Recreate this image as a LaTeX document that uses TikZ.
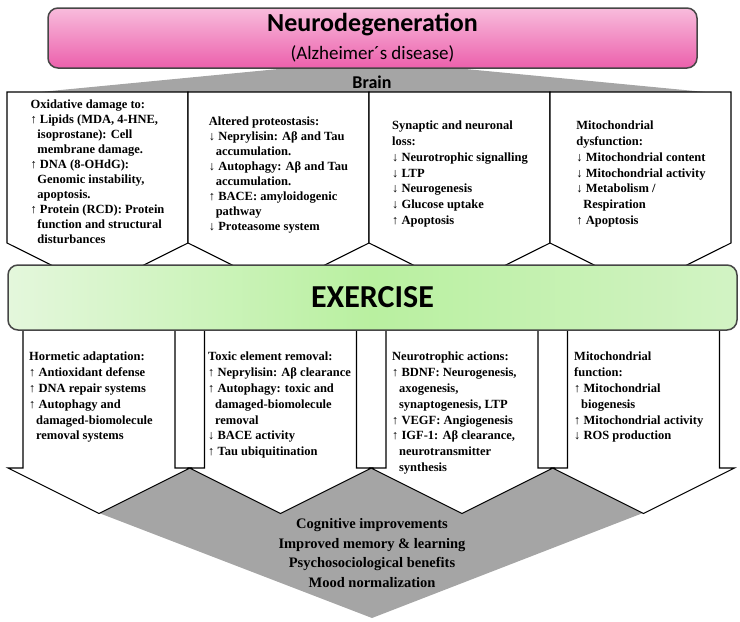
\documentclass[tikz,border=0pt]{standalone}
\usepackage{fontspec}
\setmainfont{Liberation Serif}
\newfontfamily\headfont{Carlito}
\usetikzlibrary{positioning}
\definecolor{pinktop}{RGB}{248,188,220}
\definecolor{pinkbot}{RGB}{236,96,172}
\definecolor{exleft}{RGB}{228,247,220}
\definecolor{exmid}{RGB}{185,240,160}
\definecolor{exright}{RGB}{210,243,196}
\definecolor{wedge}{RGB}{165,165,165}
\definecolor{rim}{RGB}{70,70,70}
\newcommand{\up}{↑~}
\newcommand{\dn}{↓~}
\newcommand{\cont}{\hspace*{0.55em}}

\begin{document}
\begin{tikzpicture}[x=1pt,y=-1pt,
  boxtext/.style={align=left,inner sep=0pt,
    font=\fontsize{12.5}{15.8}\selectfont\bfseries},
  tighttext/.style={boxtext,font=\fontsize{12.5}{15}\selectfont\bfseries},
  panel/.style={draw=black,fill=white,line width=1.1pt},
  banner/.style={draw=rim,line width=1.5pt,rounded corners=10pt}]
\useasboundingbox (0,0) rectangle (740,622);

% grey wedges
\fill[wedge] (372,60) -- (705,92) -- (40,92) -- cycle;
\fill[wedge] (99,513) -- (190,468) -- (553,468) -- (643,513) -- (372,618) -- cycle;

% brain panels
\foreach \i in {0,...,3}
  \draw[panel] ({7+181*\i},92) -- ({188+181*\i},92) -- ({188+181*\i},243)
    -- ({97.5+181*\i},288) -- ({7+181*\i},243) -- cycle;

% exercise arrows
\foreach \c in {99,280.5,462,643.5}
  \draw[panel] ({\c-76},320) -- ({\c+76},320) -- ({\c+76},468) -- ({\c+91},468)
    -- (\c,513.5) -- ({\c-91},468) -- ({\c-76},468) -- cycle;

% banners
\node[banner,top color=pinktop,bottom color=pinkbot,
  minimum width=649pt,minimum height=60pt] (neuro) at (372.5,38) {};
\node[font=\headfont\bfseries\fontsize{26}{28}\selectfont] (title) at (372.5,25) {Neurodegeneration};
\node[font=\headfont\fontsize{19}{21}\selectfont] (ad) at (372.5,54) {(Alzheimer´s disease)};
\node[font=\headfont\bfseries\fontsize{18}{20}\selectfont] (brain) at (372,82) {Brain};

\node[banner,left color=exleft,right color=exright,middle color=exmid,
  minimum width=729pt,minimum height=65pt,
  font=\headfont\bfseries\fontsize{32}{34}\selectfont] (exercise) at (372.5,297.5) {EXERCISE};

% damage
\node[tighttext] (oxid) at (97.5,172) {Oxidative damage to:\\
\up Lipids (MDA, 4-HNE,\\ \cont isoprostane): Cell\\ \cont membrane damage.\\
\up DNA (8-OHdG):\\ \cont Genomic instability,\\ \cont apoptosis.\\
\up Protein (RCD): Protein\\ \cont function and structural\\ \cont disturbances};
\node[tighttext] (proteo) at (278.5,175) {Altered proteostasis:\\
\dn Neprylisin: Aβ and Tau\\ \cont accumulation.\\
\dn Autophagy: Aβ and Tau\\ \cont accumulation.\\
\up BACE: amyloidogenic\\ \cont pathway\\
\dn Proteasome system};
\node[boxtext] (synap) at (460,174) {Synaptic and neuronal\\ loss:\\
\dn Neurotrophic signalling\\ \dn LTP\\ \dn Neurogenesis\\
\dn Glucose uptake\\ \up Apoptosis};
\node[boxtext] (mitodys) at (641,174) {Mitochondrial\\ dysfunction:\\
\dn Mitochondrial content\\ \dn Mitochondrial activity\\
\dn Metabolism /\\ \cont Respiration\\ \up Apoptosis};

% benefits
\node[boxtext,anchor=north west] (hormet) at (29,352) {Hormetic adaptation:\\
\up Antioxidant defense\\ \up DNA repair systems\\
\up Autophagy and\\ \cont damaged-biomolecule\\ \cont removal systems};
\node[boxtext,anchor=north west] (toxic) at (208,352) {Toxic element removal:\\
\up Neprylisin: Aβ clearance\\ \up Autophagy: toxic and\\
\cont damaged-biomolecule\\ \cont removal\\
\dn BACE activity\\ \up Tau ubiquitination};
\node[boxtext,anchor=north west] (trophic) at (392,352) {Neurotrophic actions:\\
\up BDNF: Neurogenesis,\\ \cont axogenesis,\\ \cont synaptogenesis, LTP\\
\up VEGF: Angiogenesis\\ \up IGF-1: Aβ clearance,\\
\cont neurotransmitter\\ \cont synthesis};
\node[boxtext,anchor=north west] (mitofun) at (574,352) {Mitochondrial\\ function:\\
\up Mitochondrial\\ \cont biogenesis\\
\up Mitochondrial activity\\ \dn ROS production};

\node[align=center,font=\fontsize{14.5}{19.5}\selectfont\bfseries] (gain) at (372,553)
  {Cognitive improvements\\ Improved memory \& learning\\
   Psychosociological benefits\\ Mood normalization};
\end{tikzpicture}
\end{document}
